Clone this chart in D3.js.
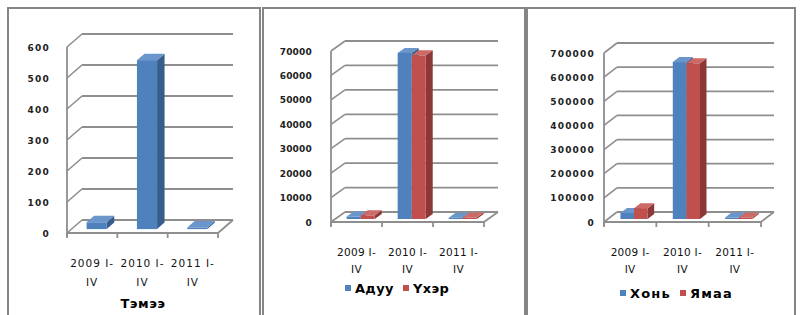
<!DOCTYPE html>
<html>
<head>
<meta charset="utf-8">
<script src="https://cdn.jsdelivr.net/npm/d3@7"></script>
<style>
  body { margin: 0; background: #fff; }
  svg { display: block; font-family: "DejaVu Sans", Verdana, sans-serif; }
</style>
</head>
<body>
<svg id="svg" width="804" height="315"></svg>
<script>
// data
const categories = ["2009 I-IV", "2010 I-IV", "2011 I-IV"];
const camel = [22, 545, 5];
const horse = [1000, 68000, 500];
const cattle = [1500, 67000, 600];
const sheep = [25000, 650000, 6000];
const goat = [45000, 645000, 5000];
const ticks1 = [0, 100, 200, 300, 400, 500, 600];
const ticks2 = [0, 10000, 20000, 30000, 40000, 50000, 60000, 70000];
const ticks3 = [0, 100000, 200000, 300000, 400000, 500000, 600000, 700000];

const colors = {
  blue: {front: "#4f81bd", side: "#385d8a", top: "#6a96cc"},
  red: {front: "#c0504d", side: "#8c3836", top: "#cd6966"}
};

const svg = d3.select("#svg");

// one 3d column chart
function panel(o) {
  const g = svg.append("g");

  g.append("rect")
    .attr("x", o.frame[0]).attr("y", o.frame[1])
    .attr("width", o.frame[2] - o.frame[0]).attr("height", 320)
    .attr("fill", "#fff").attr("stroke", "#858585").attr("stroke-width", 2);

  const y = d3.scaleLinear().domain([0, d3.max(o.ticks)]).range([o.y0, o.yTop]);
  const x = d3.scaleBand().domain(categories).range([o.x0, o.x1]);
  const dx = o.dx, dy = o.dy;
  const grid = "#8e8e8e";

  // back wall grid + left wall
  o.ticks.forEach(t => {
    g.append("line")
      .attr("x1", o.x0 + dx).attr("x2", o.x1 + dx)
      .attr("y1", y(t) + dy).attr("y2", y(t) + dy)
      .attr("stroke", grid).attr("stroke-width", 1.8);
    g.append("line")
      .attr("x1", o.x0).attr("x2", o.x0 + dx)
      .attr("y1", y(t)).attr("y2", y(t) + dy)
      .attr("stroke", grid).attr("stroke-width", 1.6);
    g.append("text")
      .attr("x", o.labelRight).attr("y", y(t) + 3.5)
      .attr("text-anchor", "end")
      .attr("font-size", o.tickSize).attr("letter-spacing", o.tickSpacing)
      .attr("font-weight", "bold")
      .attr("fill", "#222")
      .text(t);
  });

  // floor edges and front axis
  g.append("line")
    .attr("x1", o.x0).attr("x2", o.x1).attr("y1", o.y0).attr("y2", o.y0)
    .attr("stroke", grid).attr("stroke-width", 1.8);
  g.append("line")
    .attr("x1", o.x1).attr("x2", o.x1 + dx).attr("y1", o.y0).attr("y2", o.y0 + dy)
    .attr("stroke", grid).attr("stroke-width", 1.8);
  g.append("line")
    .attr("x1", o.x0).attr("x2", o.x0).attr("y1", o.y0 + 4).attr("y2", o.yTop)
    .attr("stroke", grid).attr("stroke-width", 1.8);
  x.domain().concat([null]).forEach(c => {
    const xx = c === null ? o.x1 : x(c);
    g.append("line")
      .attr("x1", xx).attr("x2", xx).attr("y1", o.y0).attr("y2", o.y0 + 5)
      .attr("stroke", grid).attr("stroke-width", 1.8);
  });

  // bars
  const bw = x.bandwidth();
  const gw = bw * o.groupRatio;
  const keys = o.series.map(s => s.name);
  const sub = d3.scaleBand().domain(keys).range([(bw - gw) / 2, (bw + gw) / 2]);
  const f1 = 0.3, f2 = 0.8;
  categories.forEach((c, ci) => {
    o.series.forEach(s => {
      const col = colors[s.color];
      const xl = x(c) + sub(s.name), xr = xl + sub.bandwidth();
      const yv = y(s.values[ci]);
      const a = [f1 * dx, f1 * dy], b = [f2 * dx, f2 * dy];
      g.append("polygon")
        .attr("points", [[xr + a[0], yv + a[1]], [xr + b[0], yv + b[1]], [xr + b[0], o.y0 + b[1]], [xr + a[0], o.y0 + a[1]]].join(" "))
        .attr("fill", col.side);
      g.append("polygon")
        .attr("points", [[xl + a[0], yv + a[1]], [xr + a[0], yv + a[1]], [xr + b[0], yv + b[1]], [xl + b[0], yv + b[1]]].join(" "))
        .attr("fill", col.top);
      g.append("rect")
        .attr("x", xl + a[0]).attr("y", yv + a[1])
        .attr("width", xr - xl).attr("height", o.y0 - yv)
        .attr("fill", col.front);
    });
  });

  // category labels
  categories.forEach(c => {
    const parts = [c.slice(0, c.indexOf("I-") + 2), c.slice(c.indexOf("I-") + 2)];
    const t = g.append("text")
      .attr("text-anchor", "middle")
      .attr("font-size", o.catSize).attr("letter-spacing", o.catSpacing)
      .attr("fill", "#111");
    t.append("tspan").attr("x", x(c) + bw / 2).attr("y", o.catY[0] + 4).text(parts[0]);
    t.append("tspan").attr("x", x(c) + bw / 2).attr("y", o.catY[1] + 4).text(parts[1]);
  });

  // legend / title
  if (o.title) {
    g.append("text")
      .attr("x", o.title.x).attr("y", o.title.y)
      .attr("text-anchor", "middle")
      .attr("font-size", 13).attr("font-weight", "bold")
      .attr("letter-spacing", 0.5)
      .text(o.title.text);
  }
  if (o.legend) {
    o.series.forEach((s, i) => {
      const lx = o.legend.x[i];
      g.append("rect")
        .attr("x", lx).attr("y", o.legend.y - 8)
        .attr("width", 6).attr("height", 6)
        .attr("fill", colors[s.color].front);
      g.append("text")
        .attr("x", lx + 10).attr("y", o.legend.y)
        .attr("font-size", 13).attr("font-weight", "bold")
        .attr("letter-spacing", o.legend.spacing)
        .text(s.name);
    });
  }
}

panel({
  frame: [8, 8, 260],
  x0: 67, x1: 218, y0: 233, yTop: 47, dx: 15, dy: -13,
  ticks: ticks1, labelRight: 50, tickSize: 9, tickSpacing: 1.2,
  groupRatio: 0.4,
  series: [{name: "Тэмээ", values: camel, color: "blue"}],
  catY: [263, 282], catSize: 10.5, catSpacing: 1,
  title: {text: "Тэмээ", x: 143, y: 308}
});

panel({
  frame: [263, 8, 525],
  x0: 331, x1: 484, y0: 222, yTop: 51, dx: 14, dy: -10,
  ticks: ticks2, labelRight: 312, tickSize: 9, tickSpacing: 0.2,
  groupRatio: 0.55,
  series: [{name: "Адуу", values: horse, color: "blue"}, {name: "Үхэр", values: cattle, color: "red"}],
  catY: [252, 269], catSize: 10.5, catSpacing: 0.3,
  legend: {x: [345, 403], y: 293, spacing: 0.3}
});

panel({
  frame: [527, 8, 795],
  x0: 604, x1: 761, y0: 222, yTop: 53, dx: 13, dy: -10,
  ticks: ticks3, labelRight: 595, tickSize: 9, tickSpacing: 1.2,
  groupRatio: 0.52,
  series: [{name: "Хонь", values: sheep, color: "blue"}, {name: "Ямаа", values: goat, color: "red"}],
  catY: [252, 269], catSize: 10.5, catSpacing: 0.3,
  legend: {x: [620, 680], y: 298, spacing: 1.2}
});
</script>
</body>
</html>
